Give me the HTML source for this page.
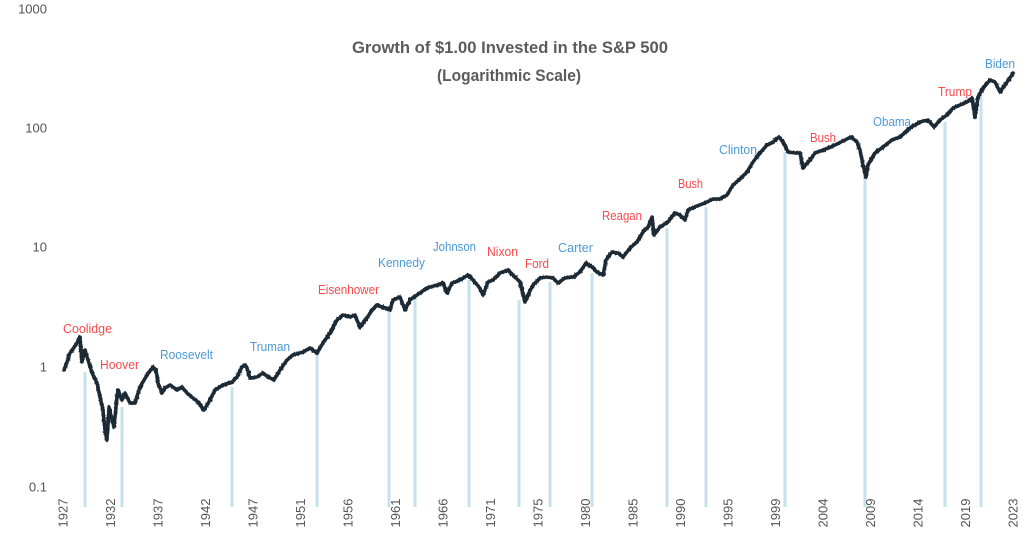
<!DOCTYPE html>
<html><head><meta charset="utf-8"><style>
html,body{margin:0;padding:0;background:#fff;}
svg{display:block;}
text{font-family:"Liberation Sans",sans-serif;}
</style></head><body>
<svg width="1024" height="534" viewBox="0 0 1024 534" xmlns="http://www.w3.org/2000/svg">
<defs>
<filter id="rough" x="-5%" y="-10%" width="110%" height="120%" filterUnits="objectBoundingBox">
<feTurbulence type="fractalNoise" baseFrequency="0.6 0.35" numOctaves="2" seed="3" result="n"/>
<feDisplacementMap in="SourceGraphic" in2="n" scale="3.5" xChannelSelector="R" yChannelSelector="G"/>
</filter>
<polyline id="s" fill="none" stroke-linejoin="round" stroke-linecap="round" points="
64,370 67,362 70,353 73,349 77,343 80,337 82,362 85,350 88,360 92,373 97,383 100,397 103,410 105,430 107,440 109,407 112,420 114,427 117,397 118,390 122,400 125,393 130,403 135,403 140,387 147,375 153,367 156,370 158,383 162,393 165,388 170,385 177,390 182,387 187,393 193,398 198,402 204,410 210,400 215,390 223,385 232,382 237,377 242,367 245,365 247,368 250,378 257,377 263,373 268,377 274,380 280,370 287,360 293,355 303,352 310,348 317,353 323,343 330,333 337,320 343,315 350,317 355,315 360,327 367,318 372,310 377,305 385,308 390,310 393,300 400,297 405,310 410,300 417,295 427,288 437,285 443,283 447,293 452,283 460,280 468,275 473,280 479,287 483,295 488,282 493,280 500,273 508,270 513,275 520,282 525,302 528,295 533,285 540,278 547,277 553,278 558,283 565,278 573,277 580,272 586,263 592,267 597,272 603,275 606,260 612,252 618,253 623,257 630,248 637,242 643,232 648,227 652,217 654,235 660,227 668,222 675,213 680,215 685,220 688,210 697,206 705,203 713,199 720,199 727,195 733,185 740,179 747,172 753,162 760,153 767,145 773,142 779,137 783,142 788,152 795,153 800,153 803,168 810,160 815,153 823,150 833,146 843,141 851,137 857,142 860,150 863,165 866,177 868,165 875,153 883,147 892,140 900,137 910,128 920,122 928,120 934,127 940,120 947,115 953,108 960,105 967,102 972,98 975,117 978,97 983,88 990,80 995,82 1000,92 1005,85 1010,78 1013,73"/>
</defs>
<rect width="1024" height="534" fill="#fff"/>
<!-- title -->
<text x="352" y="53" font-size="17" font-weight="bold" fill="#5b5b5b" textLength="316" lengthAdjust="spacingAndGlyphs">Growth of $1.00 Invested in the S&amp;P 500</text>
<text x="437" y="81" font-size="17" font-weight="bold" fill="#5b5b5b" textLength="144" lengthAdjust="spacingAndGlyphs">(Logarithmic Scale)</text>
<!-- y labels -->
<g font-size="13" fill="#555" text-anchor="end">
<text x="47" y="13.5">1000</text>
<text x="47" y="132.5">100</text>
<text x="47" y="251.5">10</text>
<text x="47" y="371.5">1</text>
<text x="47" y="491.5">0.1</text>
</g>
<!-- vertical lines -->
<g stroke="#c6e2ec" stroke-width="3">
<line x1="85" y1="372" x2="85" y2="507"/>
<line x1="122" y1="407" x2="122" y2="507"/>
<line x1="232" y1="387" x2="232" y2="507"/>
<line x1="317" y1="353" x2="317" y2="507"/>
<line x1="389" y1="312" x2="389" y2="507"/>
<line x1="415" y1="298" x2="415" y2="507"/>
<line x1="469" y1="280" x2="469" y2="507"/>
<line x1="519" y1="300" x2="519" y2="507"/>
<line x1="550" y1="282" x2="550" y2="507"/>
<line x1="592" y1="273" x2="592" y2="507"/>
<line x1="667" y1="228" x2="667" y2="507"/>
<line x1="706" y1="207" x2="706" y2="507"/>
<line x1="785" y1="152" x2="785" y2="507"/>
<line x1="865" y1="178" x2="865" y2="507"/>
<line x1="945" y1="122" x2="945" y2="507"/>
<line x1="981" y1="95" x2="981" y2="507"/>
</g>
<!-- series -->
<use href="#s" stroke="#1d2a35" stroke-width="3.4"/>
<g filter="url(#rough)">
<use href="#s" stroke="#1d2a35" stroke-width="3.6"/>
</g>
<!-- president labels -->
<g font-size="13">
<text x="63" y="333" fill="#f74a4e" textLength="49" lengthAdjust="spacingAndGlyphs">Coolidge</text>
<text x="100" y="369" fill="#f74a4e" textLength="39" lengthAdjust="spacingAndGlyphs">Hoover</text>
<text x="160" y="359" fill="#4b9ad6" textLength="53" lengthAdjust="spacingAndGlyphs">Roosevelt</text>
<text x="250" y="351" fill="#4b9ad6" textLength="40" lengthAdjust="spacingAndGlyphs">Truman</text>
<text x="318" y="294" fill="#f74a4e" textLength="61" lengthAdjust="spacingAndGlyphs">Eisenhower</text>
<text x="378" y="267" fill="#4b9ad6" textLength="47" lengthAdjust="spacingAndGlyphs">Kennedy</text>
<text x="433" y="251" fill="#4b9ad6" textLength="43" lengthAdjust="spacingAndGlyphs">Johnson</text>
<text x="487" y="256" fill="#f74a4e" textLength="31" lengthAdjust="spacingAndGlyphs">Nixon</text>
<text x="525" y="268" fill="#f74a4e" textLength="24" lengthAdjust="spacingAndGlyphs">Ford</text>
<text x="558" y="252" fill="#4b9ad6" textLength="35" lengthAdjust="spacingAndGlyphs">Carter</text>
<text x="602" y="220" fill="#f74a4e" textLength="40" lengthAdjust="spacingAndGlyphs">Reagan</text>
<text x="678" y="188" fill="#f74a4e" textLength="25" lengthAdjust="spacingAndGlyphs">Bush</text>
<text x="719" y="154" fill="#4b9ad6" textLength="38" lengthAdjust="spacingAndGlyphs">Clinton</text>
<text x="810" y="142" fill="#f74a4e" textLength="26" lengthAdjust="spacingAndGlyphs">Bush</text>
<text x="873" y="126" fill="#4b9ad6" textLength="38" lengthAdjust="spacingAndGlyphs">Obama</text>
<text x="938" y="96" fill="#f74a4e" textLength="34" lengthAdjust="spacingAndGlyphs">Trump</text>
<text x="985" y="68" fill="#4b9ad6" textLength="30" lengthAdjust="spacingAndGlyphs">Biden</text>
</g>
<!-- x labels -->
<g font-size="13" fill="#555" text-anchor="middle">
<text transform="translate(67.5,513) rotate(-90)">1927</text>
<text transform="translate(115,513) rotate(-90)">1932</text>
<text transform="translate(162.5,513) rotate(-90)">1937</text>
<text transform="translate(210,513) rotate(-90)">1942</text>
<text transform="translate(257.5,513) rotate(-90)">1947</text>
<text transform="translate(305,513) rotate(-90)">1951</text>
<text transform="translate(352.5,513) rotate(-90)">1956</text>
<text transform="translate(400,513) rotate(-90)">1961</text>
<text transform="translate(447.5,513) rotate(-90)">1966</text>
<text transform="translate(495,513) rotate(-90)">1971</text>
<text transform="translate(542.5,513) rotate(-90)">1975</text>
<text transform="translate(590,513) rotate(-90)">1980</text>
<text transform="translate(637.5,513) rotate(-90)">1985</text>
<text transform="translate(685,513) rotate(-90)">1990</text>
<text transform="translate(732.5,513) rotate(-90)">1995</text>
<text transform="translate(780,513) rotate(-90)">1999</text>
<text transform="translate(827.5,513) rotate(-90)">2004</text>
<text transform="translate(875,513) rotate(-90)">2009</text>
<text transform="translate(922.5,513) rotate(-90)">2014</text>
<text transform="translate(970,513) rotate(-90)">2019</text>
<text transform="translate(1017.5,513) rotate(-90)">2023</text>
</g>
</svg>
</body></html>
